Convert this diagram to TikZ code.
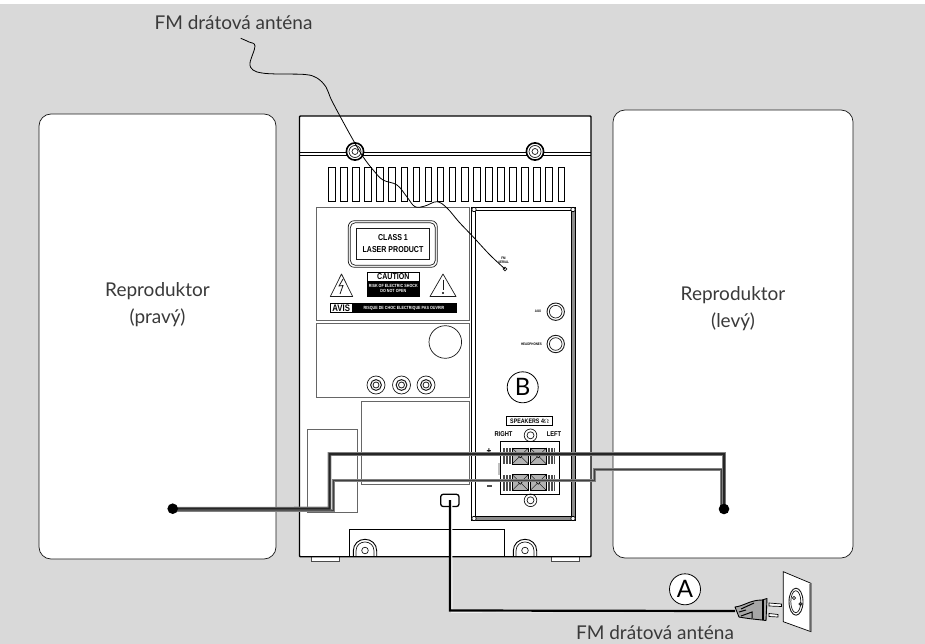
\documentclass[tikz,border=0pt]{standalone}
\usepackage{fontspec}
\setmainfont{Lato}
\newfontfamily\labfont{Liberation Sans}[FakeStretch=0.82]
\usetikzlibrary{calc}
\definecolor{bg}{HTML}{D9D9D9}
\definecolor{ink}{HTML}{1A1A1A}
\definecolor{txt}{HTML}{3A3A3A}
\tikzset{
  every node/.style={inner sep=0pt,outer sep=0pt},
  thinl/.style={draw=ink,line width=0.7pt},
  grayl/.style={draw=black!60,line width=0.9pt},
  medl/.style={draw=black,line width=1pt},
  caption/.style={font=\fontsize{19}{27}\selectfont,text=txt,align=center},
  tiny/.style={font=\labfont\bfseries\fontsize{4.5}{5}\selectfont,align=center},
  lab/.style={font=\labfont\bfseries\fontsize{8.6}{12}\selectfont,align=center},
  letter/.style={draw=black,line width=0.8pt,fill=white,circle,minimum size=31pt,font=\fontsize{24}{26}\selectfont,text=black},
  speaker/.style={draw=ink,line width=0.7pt,fill=white,rounded corners=12pt},
}
\begin{document}
\begin{tikzpicture}[x=1pt,y=-1pt]
\useasboundingbox (0,0) rectangle (925,644);
\fill[white] (0,0) rectangle (925,644);
\fill[bg] (0,4) rectangle (925,644);
% speakers
\path[speaker] (39,114) rectangle (276,559);
\path[speaker] (613,110) rectangle (853,558);
\node[caption] (spr) at (157.5,305) {Reproduktor\\(pravý)};
\node[caption] (spl) at (733,309) {Reproduktor\\(levý)};
% feet and body
\path[draw=black!70,fill=white,line width=0.7pt] (311.7,556) rectangle (339,561);
\path[draw=black!70,fill=white,line width=0.7pt] (551,556) rectangle (579,561);
\path[draw=black,fill=white,line width=1.4pt,rounded corners=0.8pt] (299.5,116) rectangle (591,556.7);
\draw[medl] (299.5,152.3) -- (591,152.3);
\draw[medl] (299.5,156) -- (591,156);
\foreach \x in {355,535}{
  \path[draw=black,fill=white,line width=1.6pt] (\x,151.5) circle (8.6);
  \draw[thinl] (\x,151.5) circle (6);
  \draw[thinl] (\x,151.5) circle (3);
}
\foreach \i in {0,...,19}{
  \draw[draw=black,line width=0.9pt] ({328.5+\i*12.08},167.3) rectangle ++(6.6,33.7);
}
% left panels
\draw[grayl] (316.7,207.7) rectangle (469.3,320);
\draw[grayl] (316.7,323.3) rectangle (469.3,397.3);
\draw[grayl] (361,401) rectangle (469.3,484.3);
\draw[grayl] (307,429.3) rectangle (357.3,512.7);
% laser label
\draw[thinl,rounded corners=6pt] (348.3,220.7) rectangle (437.3,267.3);
\draw[thinl,rounded corners=5pt] (350.3,222.7) rectangle (435.3,265.3);
\draw[thinl] (356,228.3) rectangle (429.7,259.3);
\node[lab] (laser) at (393,243.7) {CLASS 1\\LASER PRODUCT};
% caution
\draw[draw=black,line width=0.9pt] (367.3,272.3) rectangle (419.3,296.7);
\fill[black] (367.3,280.7) rectangle (419.3,296.7);
\node[lab,font=\labfont\bfseries\fontsize{8.6}{8.6}\selectfont] (caution) at (393.3,276.7) {CAUTION};
\node[tiny,text=white] (risk) at (393.3,288.7) {RISK OF ELECTRIC SHOCK\\DO NOT OPEN};
\draw[thinl,line join=round] (341.5,274) -- (330.3,296.5) -- (352.7,296.5) -- cycle;
\draw[thinl,line width=0.8pt] (343,279) -- (339,286) -- (343,285.5) -- (340,294);
\draw[thinl,line join=round] (443,274) -- (430,296.5) -- (456,296.5) -- cycle;
\draw[thinl,line width=1pt] (443,279.5) -- (443,290);
\fill[black] (443,293) circle (1.2);
% avis
\draw[draw=black,line width=0.9pt] (330,303.3) rectangle (456,312.7);
\fill[black] (352.3,303.3) rectangle (456,312.7);
\node[lab,font=\labfont\bfseries\fontsize{9.5}{9.5}\selectfont] (avis) at (341.2,308) {AVIS};
\node[tiny,text=white] (risque) at (404,308) {RISQUE DE CHOC ELECTRIQUE PAS OUVRIR};
% knob and sockets
\draw[thinl] (445.3,342) circle (16.3);
\foreach \x in {376,401.5,426}{
  \draw[thinl] (\x,385) circle (9);
  \draw[thinl,line width=1pt] (\x,385) circle (5.4);
  \draw[thinl,line width=0.8pt] (\x,385) circle (3);
}
% right panel
\fill[black!45] (571,208) rectangle (575,520);
\fill[black!45] (472,516.5) rectangle (575,520);
\draw[draw=black,line width=0.8pt] (471.7,207.3) rectangle (575.3,520.5);
\draw[draw=black,line width=0.6pt] (475,210.3) -- (571,210.3) -- (571,516.7) -- (475,516.7) -- cycle;
\foreach \p in {(474,209.5),(573,209.5),(474,518.5),(573,518.5)}{
  \path[draw=black,fill=white,line width=0.7pt] \p circle (2.2);
}
\node[tiny,font=\labfont\bfseries\fontsize{3.6}{4}\selectfont] (fm) at (503.5,259.8) {FM\\AERIAL};
\draw[thinl] (505,269) circle (1.8);
\node[tiny,font=\labfont\bfseries\fontsize{3.6}{4}\selectfont] (aux) at (538,311) {AUX};
\node[tiny,font=\labfont\bfseries\fontsize{3.6}{4}\selectfont] (hp) at (531.5,344.5) {HEADPHONES};
\foreach \y in {311.7,344}{
  \draw[thinl,line width=0.9pt] (555.7,\y) circle (8.7);
  \draw[thinl] (555.7,\y) circle (6.3);
}
\node[letter] (B) at (522.7,387.3) {B};
\draw[draw=black,line width=0.7pt] (506.7,416.7) rectangle (552.7,425.7);
\node[lab,font=\labfont\bfseries\fontsize{6.5}{6.5}\selectfont] (spk) at (529.7,421.2) {SPEAKERS 4$\Omega$};
\node[lab,font=\labfont\bfseries\fontsize{7}{7}\selectfont] (right) at (503.5,434.5) {RIGHT};
\node[lab,font=\labfont\bfseries\fontsize{7}{7}\selectfont] (left) at (554,434.5) {LEFT};
\foreach \y in {435.3,500.3}{
  \draw[thinl] (530.5,\y) circle (6.3);
  \draw[thinl] (530.5,\y) circle (3.5);
}
\draw[draw=black,line width=0.9pt] (500.7,441.7) rectangle (559.7,494.3);
\node[lab,font=\labfont\bfseries\fontsize{10}{10}\selectfont] (plus) at (489,451.5) {+};
\fill[black!70] (486.5,485.2) rectangle (491.5,487.2);
\fill[black!25] (498,462.5) rectangle (500,475);
\foreach \y in {448,474.5}{
  \foreach \x/\d in {503/1,555/-1}{
    \fill[black!70] (\x,\y) rectangle ++({\d*10},16);
    \foreach \k in {2,5,8}{\draw[white,line width=0.6pt] ({\x+\d*\k},\y) -- ++(0,16);}
  }
  \foreach \x in {512,530}{
    \path[draw=black,fill=black!30,line width=0.6pt] (\x,\y) rectangle ++(16.5,16);
    \draw[black,line width=0.4pt] (\x,\y) -- ++(16.5,16);
    \draw[black,line width=0.4pt] (\x,{\y+16}) -- ++(16.5,-16);
    \path[draw=black,fill=black!30,line width=0.5pt] ({\x+8.2},{\y+8}) circle (1.8);
  }
}
% bottom of unit
\draw[draw=black,line width=0.9pt] (349.3,556) -- (349.3,529.3) -- (504.7,529.3) -- (504.7,556);
\foreach \x in {365,525}{
  \path[draw=black,fill=white,line width=0.9pt] ({\x-11.7},556) -- ({\x-11.7},551) .. controls ({\x-11.7},544) and ({\x-6.5},539.3) .. (\x,539.3) .. controls ({\x+6.5},539.3) and ({\x+11.7},544) .. ({\x+11.7},551) -- ({\x+11.7},556);
  \draw[thinl] ({\x-9},556) -- ({\x-9},551) .. controls ({\x-9},545.5) and ({\x-5},542) .. (\x,542) .. controls ({\x+5},542) and ({\x+9},545.5) .. ({\x+9},551) -- ({\x+9},556);
  \draw[thinl] (\x,550.5) circle (3.3);
}
\draw[draw=black,line width=1.4pt] (299.5,556.7) -- (591,556.7);
% mains socket
\draw[draw=black,line width=1.3pt,rounded corners=2.5pt] (440.7,494.3) rectangle (459,506.5);
% speaker wires
\coordinate (dotL) at (172.7,508.7);
\coordinate (dotR) at (724,509);
\draw[black!50,line width=3pt] (dotL) ++(0,1.6) -- (333.2,510.3) -- (333.2,480.7) -- (594,480.7) -- (594,469.5) -- (721,469.5) -- (721,509);
\draw[black!75,line width=0.7pt] (dotL) ++(0,1.6) -- (333.2,510.3) -- (333.2,480.7) -- (594,480.7) -- (594,469.5) -- (721,469.5) -- (721,509);
\draw[black!50,line width=3.6pt] (dotL) -- (329.5,508.5) -- (329.5,454) -- (724,454) -- (dotR);
\draw[black!85,line width=2pt] (dotL) -- (329.5,508.5) -- (329.5,454) -- (724,454) -- (dotR);
\fill[black] (dotL) circle (5.3);
\fill[black] (dotR) circle (5.3);
% plug and outlet
\coordinate (plugend) at (735,611);
\draw[white,line width=1.2pt] (451.8,503) -- (451.8,612) -- (plugend);
\draw[black,line width=2.2pt] (450,500) -- (450,610.5) -- (plugend);
\path[draw=black,fill=white,line width=0.7pt] (783.3,571.7) -- (811,583.3) -- (811,631.7) -- (783.3,621.7) -- cycle;
\path[fill=black!60] (811,583.3) -- (809.3,584) -- (809.3,630.5) -- (811,631.7) -- cycle;
\draw[thinl,line width=0.9pt] (796,601.7) ellipse (7 and 13.5);
\draw[thinl] (795.8,601.7) ellipse (5 and 11);
\draw[thinl] (794,598) circle (1.6);
\draw[thinl] (800.5,604) circle (1.6);
\path[draw=black,fill=white,line width=0.7pt] (769,603) -- (781.5,604) -- (781.5,606.5) -- (769,606) -- cycle;
\path[draw=black,fill=white,line width=0.7pt] (769,613.5) -- (778,614.5) -- (778,617) -- (769,616.5) -- cycle;
\path[draw=black,fill=black!35,line width=0.9pt,line join=round] (735,607) .. controls (744,606) and (750,600) .. (762,600) -- (767,598.5) -- (766,620.5) -- (762,620) .. controls (752,619) and (744,618) .. (739,617) -- cycle;
\draw[black,line width=1.2pt] (763,600) -- (763,620);
\draw[black,line width=1pt] (741,609) -- (754,603);
\draw[black,line width=1pt] (741,616) -- (752,612) -- (752,618);
\draw[black,line width=1pt] (739,612) -- (746,610);
% antenna
\draw[draw=black,line width=0.8pt] plot[smooth,tension=0.6] coordinates {(240.7,38.3) (249,42) (255,46) (250,63) (253,70) (262,73) (277,74) (305,74.5) (317,78) (326,87) (331,99) (341,118) (352,138) (363,156.7) (374,171) (383,180) (397,185) (407,197) (415,206.7) (425,206) (437,201.7) (447,208) (459,222) (473,236.7) (490,255) (505,269)};
% captions and letter
\node[letter] (A) at (685,589.3) {A};
\node[caption,anchor=base] (t1) at (233.5,30) {FM drátová anténa};
\node[caption,anchor=base] (t2) at (655,639) {FM drátová anténa};
\end{tikzpicture}
\end{document}
